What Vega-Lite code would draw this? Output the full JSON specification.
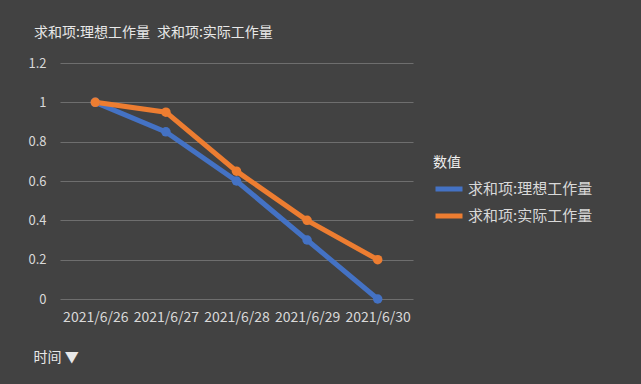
{
  "$schema": "https://vega.github.io/schema/vega-lite/v6.json",
  "autosize": {"type": "none"},
  "width": 353,
  "height": 236,
  "padding": {"left": 60, "top": 63, "right": 228, "bottom": 85},
  "background": "#424242",
  "config": {
    "font": "Noto Sans CJK SC",
    "view": {"stroke": null}
  },
  "title": {
    "text": "求和项:理想工作量\u2002求和项:实际工作量",
    "anchor": "start",
    "frame": "group",
    "dx": -26,
    "offset": 17,
    "fontSize": 14,
    "fontWeight": "normal",
    "color": "#e8e8e8"
  },
  "data": {
    "values": [
      {"时间": "2021/6/26", "系列": "求和项:理想工作量", "值": 1},
      {"时间": "2021/6/27", "系列": "求和项:理想工作量", "值": 0.85},
      {"时间": "2021/6/28", "系列": "求和项:理想工作量", "值": 0.6},
      {"时间": "2021/6/29", "系列": "求和项:理想工作量", "值": 0.3},
      {"时间": "2021/6/30", "系列": "求和项:理想工作量", "值": 0},
      {"时间": "2021/6/26", "系列": "求和项:实际工作量", "值": 1},
      {"时间": "2021/6/27", "系列": "求和项:实际工作量", "值": 0.95},
      {"时间": "2021/6/28", "系列": "求和项:实际工作量", "值": 0.65},
      {"时间": "2021/6/29", "系列": "求和项:实际工作量", "值": 0.4},
      {"时间": "2021/6/30", "系列": "求和项:实际工作量", "值": 0.2}
    ]
  },
  "mark": {"type": "line", "strokeWidth": 5, "point": {"size": 90, "filled": true}},
  "encoding": {
    "x": {
      "field": "时间",
      "type": "ordinal",
      "sort": null,
      "scale": {"type": "point", "padding": 0.5},
      "axis": {
        "labelAngle": 0,
        "labelColor": "#d9d9d9",
        "labelFontSize": 14,
        "labelPadding": 11,
        "ticks": false,
        "domain": false,
        "grid": false,
        "title": "时间 ▼",
        "titleColor": "#e8e8e8",
        "titleFontSize": 14,
        "titleFontWeight": "normal",
        "titleAnchor": "start",
        "titleAlign": "left",
        "titleX": -27,
        "titleY": 51
      }
    },
    "y": {
      "field": "值",
      "type": "quantitative",
      "scale": {"domain": [0, 1.2], "nice": false},
      "axis": {
        "values": [0, 0.2, 0.4, 0.6, 0.8, 1, 1.2],
        "format": "~g",
        "labelColor": "#d9d9d9",
        "labelFontSize": 13,
        "labelPadding": 14,
        "ticks": false,
        "domain": false,
        "grid": true,
        "gridColor": "#6e6e6e",
        "gridWidth": 1,
        "title": null
      }
    },
    "color": {
      "field": "系列",
      "type": "nominal",
      "scale": {"domain": ["求和项:理想工作量", "求和项:实际工作量"], "range": ["#4472C4", "#ED7D31"]},
      "legend": {
        "orient": "none",
        "legendX": 373,
        "legendY": 93,
        "title": "数值",
        "titleColor": "#f0f0f0",
        "titleFontSize": 14,
        "titleFontWeight": "normal",
        "titlePadding": 3,
        "labelColor": "#d9d9d9",
        "labelFontSize": 15,
        "labelOffset": 3,
        "symbolType": "stroke",
        "symbolStrokeWidth": 5,
        "symbolSize": 729,
        "rowPadding": 1
      }
    }
  }
}
